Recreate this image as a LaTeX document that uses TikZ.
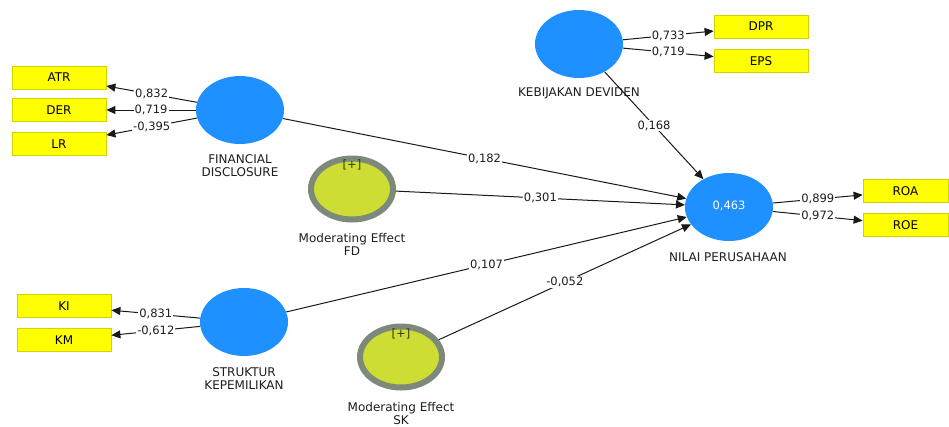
\documentclass[tikz,border=0pt]{standalone}
\usepackage{fontspec}
\setmainfont{DejaVu Sans}
\usetikzlibrary{shapes.geometric,arrows.meta}
\definecolor{latblue}{RGB}{30,144,255}
\definecolor{indyellow}{RGB}{255,255,0}
\definecolor{indedge}{RGB}{210,210,0}
\definecolor{modfill}{RGB}{205,221,52}
\definecolor{modedge}{RGB}{125,137,122}
\definecolor{linecol}{RGB}{25,25,25}
\definecolor{txtcol}{RGB}{30,30,30}
\definecolor{pluscol}{RGB}{55,55,20}
\begin{document}
\begin{tikzpicture}[x=1pt,y=-1pt,
  latent/.style={ellipse, fill=latblue, minimum width=88pt, minimum height=68pt, inner sep=0pt},
  moder/.style={ellipse, fill=modfill, draw=modedge, line width=6pt, minimum width=82pt, minimum height=61pt, inner sep=0pt},
  ind/.style={rectangle, fill=indyellow, draw=indedge, line width=0.8pt, minimum width=94pt, minimum height=23pt, inner sep=0pt, font=\fontsize{12}{14}\selectfont},
  capt/.style={align=center, font=\fontsize{12}{13}\selectfont, text=txtcol, inner sep=0pt},
  plusmark/.style={font=\fontsize{11.5}{12}\selectfont, text=pluscol, inner sep=0pt},
  arr/.style={draw=linecol, line width=1pt, -{Triangle[length=9pt,width=8pt]}},
  lbl/.style={fill=white, inner sep=1pt, font=\fontsize{11.5}{12}\selectfont, text=txtcol, pos=0.5},
  ]
\useasboundingbox (0,0) rectangle (949,426);

% latent variables
\node[latent] (fd) at (240,110) {};
\node[latent] (kd) at (579,44) {};
\node[latent, font=\fontsize{11.5}{12}\selectfont, text=white] (np) at (729,207) {\raisebox{4pt}{0,463}};
\node[latent] (sk) at (244,322) {};
\node[moder] (mefd) at (352,189) {};
\node[moder] (mesk) at (401,357) {};
\node[plusmark] (mefdp) at (352,165) {[+]};
\node[plusmark] (meskp) at (401,334) {[+]};

% captions
\node[capt] (fdc) at (240,166) {FINANCIAL\\DISCLOSURE};
\node[capt] (kdc) at (579,93) {KEBIJAKAN DEVIDEN};
\node[capt] (npc) at (728,257) {NILAI PERUSAHAAN};
\node[capt] (skc) at (244,378.5) {STRUKTUR\\KEPEMILIKAN};
\node[capt] (mefdc) at (352,244.5) {Moderating Effect\\FD};
\node[capt] (meskc) at (401,413.5) {Moderating Effect\\SK};

% indicators
\node[ind] (atr) at (59,77.5) {ATR};
\node[ind] (der) at (59,110) {DER};
\node[ind] (lr) at (59,144) {LR};
\node[ind] (ki) at (64,306) {KI};
\node[ind] (km) at (64,340) {KM};
\node[ind] (dpr) at (761,26.5) {DPR};
\node[ind] (eps) at (761,61) {EPS};
\node[ind, minimum width=85pt] (roa) at (905.5,191) {ROA};
\node[ind, minimum width=85pt] (roe) at (905.5,225) {ROE};

% outer loadings
\draw[arr] (fd) -- node[lbl]{0,832} (atr);
\draw[arr] (fd) -- node[lbl]{0,719} (der);
\draw[arr] (fd) -- node[lbl]{-0,395} (lr);
\draw[arr] (sk) -- node[lbl]{0,831} (ki);
\draw[arr] (sk) -- node[lbl]{-0,612} (km);
\draw[arr] (kd) -- node[lbl]{0,733} (dpr);
\draw[arr] (kd) -- node[lbl]{0,719} (eps);
\draw[arr] (np) -- node[lbl]{0,899} (roa);
\draw[arr] (np) -- node[lbl]{0,972} (roe);

% path coefficients
\draw[arr] (fd) -- node[lbl]{0,182} (np);
\draw[arr] (mefd) -- node[lbl]{0,301} (np);
\draw[arr] (sk) -- node[lbl]{0,107} (np);
\draw[arr] (mesk) -- node[lbl]{-0,052} (np);
\draw[arr] (kd) -- node[lbl]{0,168} (np);
\end{tikzpicture}
\end{document}
